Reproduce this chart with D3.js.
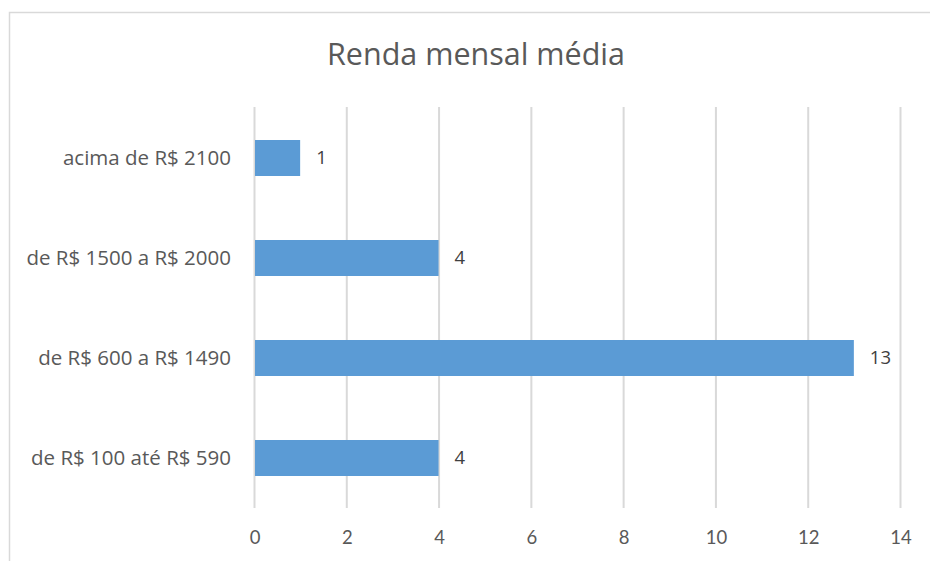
<!DOCTYPE html>
<html><head><meta charset="utf-8">
<script src="https://cdn.jsdelivr.net/npm/d3@7"></script>
<style>body{margin:0;background:#fff}svg{display:block}</style>
</head><body>
<script>
const categories = ["acima de R$ 2100", "de R$ 1500 a R$ 2000", "de R$ 600 a R$ 1490", "de R$ 100 até R$ 590"];
const values = [1, 4, 13, 4];
const xTicks = [0, 2, 4, 6, 8, 10, 12, 14];
const title = "Renda mensal média";

const W = 930, H = 561;
const svg = d3.select("body").append("svg").attr("width", W).attr("height", H);
svg.append("rect").attr("x", 9.5).attr("y", 12.5).attr("width", W + 10).attr("height", H)
  .attr("fill", "#fff").attr("stroke", "#d9d9d9").attr("stroke-width", 1.5);

svg.append("text").attr("x", 476).attr("y", 65).attr("text-anchor", "middle")
  .attr("font-family", "Open Sans").attr("font-size", 30.5).attr("fill", "#595959").text(title);

const x = d3.scaleLinear().domain([0, 14]).range([254, 900]);
const y = d3.scaleBand().domain(categories).range([108, 508]).paddingInner(0.64).paddingOuter(0.32);

svg.append("g").selectAll("line").data(xTicks).join("line")
  .attr("x1", d => x(d) + 0.5).attr("x2", d => x(d) + 0.5).attr("y1", 107).attr("y2", 508)
  .attr("stroke", "#d9d9d9").attr("stroke-width", 2);

svg.append("g").selectAll("rect").data(values).join("rect")
  .attr("x", x(0) + 1).attr("y", (d, i) => y(categories[i]))
  .attr("width", d => x(d) - x(0) - 1).attr("height", y.bandwidth())
  .attr("fill", "#5b9bd5");

svg.append("g").selectAll("text").data(values).join("text")
  .attr("x", d => x(d) + 16).attr("y", (d, i) => y(categories[i]) + y.bandwidth() / 2)
  .attr("dy", "0.35em").attr("font-family", "Open Sans").attr("font-size", 18.5)
  .attr("fill", "#404040").text(d => d);

svg.append("g").selectAll("text").data(categories).join("text")
  .attr("x", 231).attr("y", d => y(d) + y.bandwidth() / 2).attr("dy", "0.35em")
  .attr("text-anchor", "end").attr("font-family", "Open Sans").attr("font-size", 20.5)
  .attr("fill", "#595959").text(d => d);

svg.append("g").selectAll("text").data(xTicks).join("text")
  .attr("x", d => x(d) + 1).attr("y", 538).attr("dy", "0.35em").attr("text-anchor", "middle")
  .attr("font-family", "Lato").attr("font-size", 18.5).attr("fill", "#595959").text(d => d);
</script>
</body></html>
